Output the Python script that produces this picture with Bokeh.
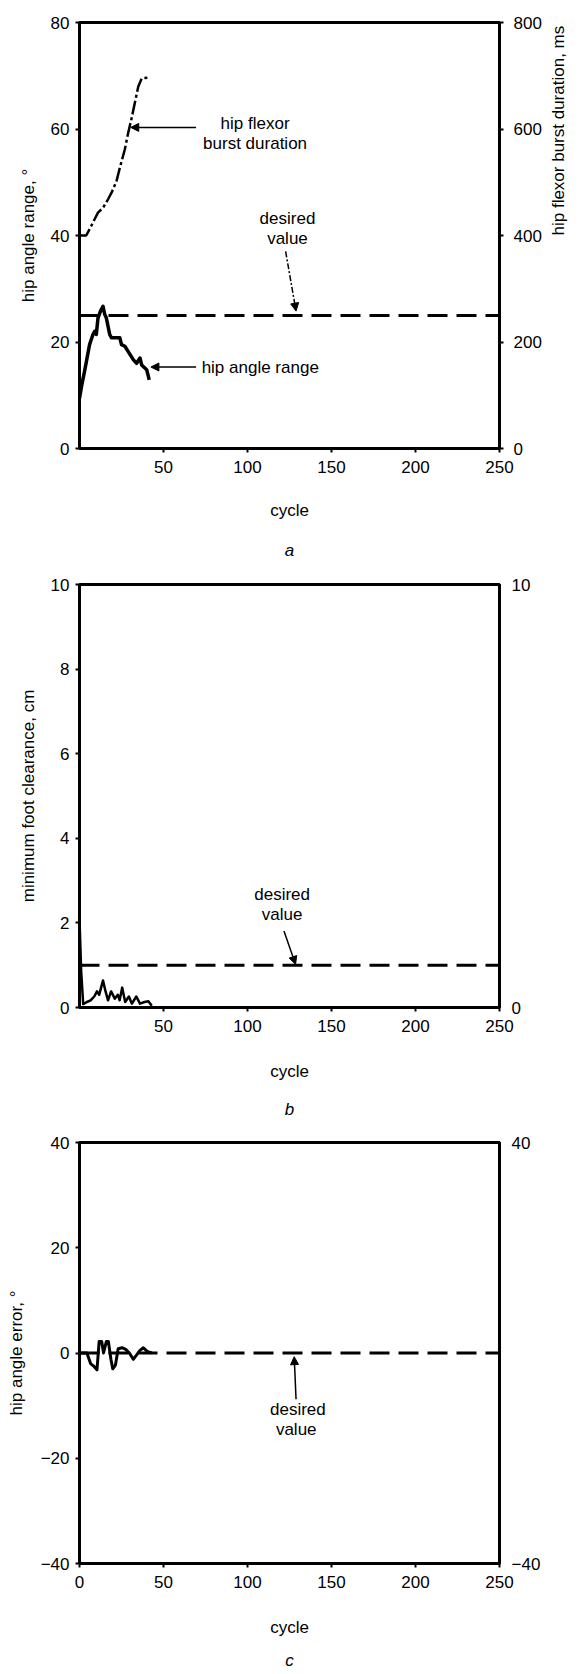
import math
from bokeh.plotting import figure
from bokeh.models import Range1d, LinearAxis, FixedTicker, Label, Arrow, NormalHead
from bokeh.layouts import column
from bokeh.embed import file_html
from bokeh.resources import INLINE

# ---------------- data ----------------
# panel a
burst_cycle = [0, 4, 7, 11, 14, 17, 19, 22, 24, 27, 29, 31, 33, 35, 37, 42]
burst_ms = [400, 400, 418, 443, 452, 468, 480, 502, 527, 562, 593, 620, 650, 680, 695, 697]
har_cycle = [0, 1.4, 3, 6, 8, 9, 10, 11, 12.5, 14, 15, 16, 18, 19, 22, 24, 25, 27, 29, 32, 34, 36, 37, 40, 41.5]
har_deg = [9.4, 12, 14.5, 19.5, 21.4, 22, 21.4, 24.5, 25.8, 26.7, 25.2, 24.5, 21.4, 20.8, 20.8, 20.8,
           19.5, 19.2, 18.2, 16.7, 16, 17, 15.7, 14.8, 12.9]
desired_hip_range = 25
# panel b
fc_cycle = [0, 1, 2.2, 4.4, 6.6, 8.8, 10.4, 11.7, 14, 15.5, 17, 18.8, 21, 22.8, 23.9, 25.4, 27.2,
            29.4, 31.2, 33.8, 36, 38.7, 41, 43]
fc_cm = [2.1, 0.85, 0.08, 0.13, 0.17, 0.26, 0.38, 0.3, 0.64, 0.38, 0.17, 0.38, 0.21, 0.3, 0.17, 0.47,
         0.13, 0.26, 0.09, 0.26, 0.09, 0.13, 0.15, 0.04]
desired_clearance = 1.0
# panel c
err_cycle = [0, 4.4, 6.6, 8.8, 10.4, 11.7, 13.2, 14.3, 16, 17.2, 18.7, 19.8, 21.4, 23, 25.3, 27.5,
             29.7, 32, 33.7, 36, 38, 40.3, 43]
err_deg = [0, 0, -2, -2.6, -3.2, 2.2, 2.2, 0, 2.2, 2.2, -1.2, -3, -2.3, 0.8, 1, 0.7, 0, -1.2, -0.5,
           0.5, 1, 0.3, 0]
desired_error = 0

x_ticks_ab = [50, 100, 150, 200, 250]
x_ticks_c = [0, 50, 100, 150, 200, 250]
ya_ticks = [0, 20, 40, 60, 80]
ya_right_ticks = [0, 200, 400, 600, 800]
yb_ticks = [0, 2, 4, 6, 8, 10]
yb_right_ticks = [0, 10]
yc_ticks = [-40, -20, 0, 20, 40]
yc_right_ticks = [-40, 40]

FONT = "Liberation Sans"
FS = "17px"
LEFT = 79
FRAME_W = 420


def base(height, top, frame_h, y0, y1):
    p = figure(width=581, height=height, x_range=Range1d(0, 250), y_range=Range1d(y0, y1),
               output_backend="svg", toolbar_location=None,
               min_border_left=LEFT, min_border_right=581 - LEFT - FRAME_W,
               min_border_top=top, min_border_bottom=height - top - frame_h)
    p.grid.visible = False
    p.outline_line_color = "black"
    p.outline_line_width = 3
    p.background_fill_color = "white"
    p.border_fill_color = "white"
    return p


def style_axis(ax, ticks, tick_out=4, standoff=8):
    ax.ticker = FixedTicker(ticks=ticks)
    ax.major_tick_out = tick_out
    ax.major_tick_in = 0
    ax.minor_tick_out = 0
    ax.minor_tick_in = 0
    ax.major_tick_line_width = 2
    ax.axis_line_width = 3
    ax.axis_line_color = "black"
    ax.major_label_text_font = FONT
    ax.major_label_text_font_size = FS
    ax.major_label_text_color = "black"
    ax.major_label_standoff = standoff
    ax.axis_label_text_font = FONT
    ax.axis_label_text_font_size = FS
    ax.axis_label_text_font_style = "normal"
    ax.axis_label_text_color = "black"


def letter_axis(p, letter, standoff):
    ax = LinearAxis(ticker=FixedTicker(ticks=[]))
    ax.axis_line_color = None
    ax.major_tick_line_color = None
    ax.minor_tick_line_color = None
    ax.major_tick_out = 0
    ax.major_label_standoff = 0
    ax.major_label_text_font_size = "0px"
    ax.axis_label = letter
    ax.axis_label_standoff = standoff
    ax.axis_label_text_font = FONT
    ax.axis_label_text_font_size = FS
    ax.axis_label_text_font_style = "italic"
    ax.axis_label_text_color = "black"
    p.add_layout(ax, "below")


def txt(p, x, y, text, align="center"):
    p.add_layout(Label(x=x, y=y, text=text, text_font=FONT, text_font_size=FS,
                       text_align=align, text_baseline="middle", text_color="black"))


def arrow(p, xs, ys, xe, ye, dash="solid"):
    p.add_layout(Arrow(end=NormalHead(size=8, fill_color="black", line_color="black", line_width=1),
                       x_start=xs, y_start=ys, x_end=xe, y_end=ye, line_width=1.5,
                       line_color="black", line_dash=dash))


# ---------------- panel a ----------------  (page y 0..572)
pa = base(572, 22, 426, 0, 80)
pa.extra_y_ranges = {"ms": Range1d(0, 800)}
style_axis(pa.xaxis[0], x_ticks_ab, 4, 8)
pa.xaxis[0].axis_label = "cycle"
pa.xaxis[0].axis_label_standoff = 25
style_axis(pa.yaxis[0], ya_ticks, 4, 6)
pa.yaxis[0].axis_label = "hip angle range, °"
pa.yaxis[0].axis_label_standoff = 10
ra = LinearAxis(y_range_name="ms")
style_axis(ra, ya_right_ticks, 4, 10)
ra.axis_label = "hip flexor burst duration, ms"
ra.axis_label_standoff = 14
if "axis_label_orientation" in LinearAxis.properties():
    ra.axis_label_orientation = math.pi / 2
pa.add_layout(ra, "right")
letter_axis(pa, "a", 18)

pa.line([0, 250], [desired_hip_range, desired_hip_range], line_color="black", line_width=3,
        line_dash="20 9")
pa.line(burst_cycle, burst_ms, y_range_name="ms", line_color="black", line_width=2.5,
        line_dash="14 3 3 3")
pa.line(har_cycle, har_deg, line_color="black", line_width=3.5, line_join="round")

txt(pa, 104.5, 61.1, "hip flexor")
txt(pa, 104.5, 57.2, "burst duration")
arrow(pa, 69.4, 60.3, 30.5, 60.3)
txt(pa, 123.8, 43.1, "desired")
txt(pa, 123.8, 39.4, "value")
arrow(pa, 122.7, 37.0, 128.9, 25.8, dash="6 2 2 2")
txt(pa, 72.7, 15.3, "hip angle range", align="left")
arrow(pa, 69.4, 15.3, 42.5, 15.3)

# ---------------- panel b ----------------  (page y 572..1128)
pb = base(556, 12, 423, 0, 10)
style_axis(pb.xaxis[0], x_ticks_ab, 4, 8)
pb.xaxis[0].axis_label = "cycle"
pb.xaxis[0].axis_label_standoff = 27
style_axis(pb.yaxis[0], yb_ticks, 4, 6)
pb.yaxis[0].axis_label = "minimum foot clearance, cm"
pb.yaxis[0].axis_label_standoff = 10
rb = LinearAxis()
style_axis(rb, yb_right_ticks, 0, 12)
pb.add_layout(rb, "right")
letter_axis(pb, "b", 16)

pb.line([0, 250], [desired_clearance, desired_clearance], line_color="black", line_width=3,
        line_dash="20 9")
pb.line(fc_cycle, fc_cm, line_color="black", line_width=2.5, line_join="round")
txt(pb, 120.6, 2.68, "desired")
txt(pb, 120.6, 2.2, "value")
arrow(pb, 121.7, 1.81, 128.6, 1.02)

# ---------------- panel c ----------------  (page y 1128..1674)
pc = base(546, 14, 421, -40, 40)
style_axis(pc.xaxis[0], x_ticks_c, 4, 8)
pc.xaxis[0].axis_label = "cycle"
pc.xaxis[0].axis_label_standoff = 27
style_axis(pc.yaxis[0], yc_ticks, 4, 6)
pc.yaxis[0].axis_label = "hip angle error, °"
pc.yaxis[0].axis_label_standoff = 12
rc = LinearAxis()
style_axis(rc, yc_right_ticks, 0, 12)
pc.add_layout(rc, "right")
letter_axis(pc, "c", 11)

pc.line([0, 250], [desired_error, desired_error], line_color="black", line_width=3,
        line_dash="20 9")
pc.line(err_cycle, err_deg, line_color="black", line_width=3, line_join="round")
txt(pc, 130, -10.7, "desired")
txt(pc, 129, -14.6, "value")
arrow(pc, 128.9, -8.8, 127.8, -0.7)

layout = column(pa, pb, pc)
open("out.html", "w").write(file_html(layout, INLINE))
